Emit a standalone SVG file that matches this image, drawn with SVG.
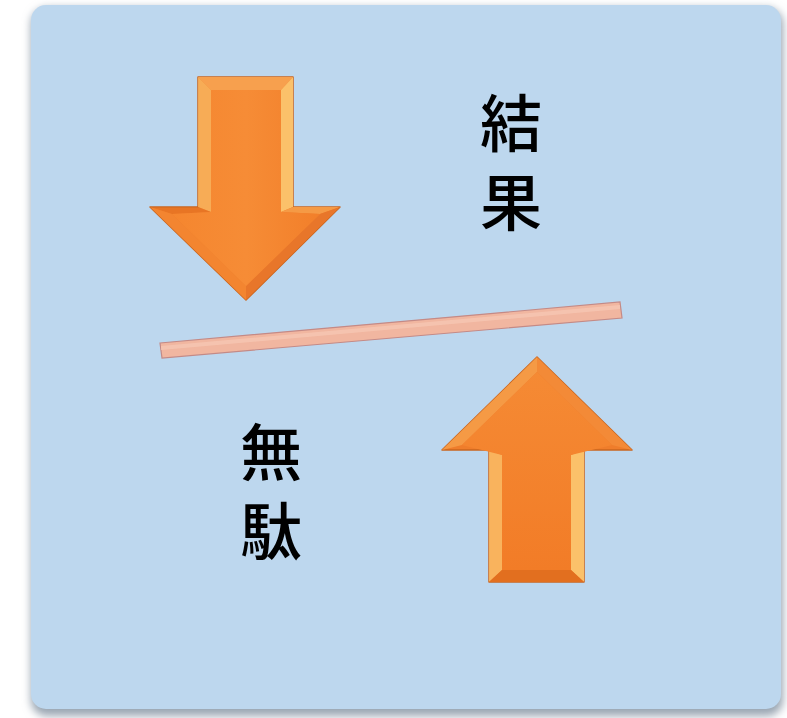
<svg xmlns="http://www.w3.org/2000/svg" width="787" height="718" viewBox="0 0 787 718">
<style>
.t{font-family:"Noto Sans CJK JP","Noto Sans CJK SC",sans-serif;font-size:62px;font-weight:500;fill:#000;writing-mode:vertical-rl;letter-spacing:17px}
.edge{fill:#ef7d2b;stroke:#c9651f;stroke-width:1.5;stroke-linejoin:round}
.lite{fill:#fbc16a}
.mid{fill:#f7a04e}
.dark{fill:#e26f1f}
</style>
<defs>
<filter id="sh" x="-5%" y="-5%" width="110%" height="110%"><feGaussianBlur stdDeviation="4"/></filter>
<linearGradient id="gd" x1="0" y1="0" x2="1" y2="0">
<stop offset="0" stop-color="#f5862f"/><stop offset="0.5" stop-color="#f68c36"/><stop offset="1" stop-color="#f27f2a"/>
</linearGradient>
<linearGradient id="gu" x1="0" y1="0" x2="0" y2="1">
<stop offset="0" stop-color="#f58a34"/><stop offset="1" stop-color="#f27c27"/>
</linearGradient>
</defs>
<rect x="0" y="0" width="787" height="718" fill="#ffffff"/>
<rect x="31" y="8" width="752" height="708" rx="16" fill="#9aa6b2" filter="url(#sh)"/>
<rect x="31" y="5" width="750" height="704" rx="15" fill="#bdd7ee"/>

<g id="arrow-down">
<polygon class="edge" points="198,77 293,77 293,207 340,207 246,300 150,207 198,207"/>
<polygon class="mid" points="198,77 293,77 281,90 211,90"/>
<polygon class="lite" points="198,77 211,90 211,212 198,207" opacity="0.7"/>
<polygon class="lite" points="293,77 281,90 281,212 293,207"/>
<polygon class="dark" points="150,207 198,207 211,212 172,214" opacity="0.6"/>
<polygon fill="#f59a45" points="340,207 293,207 281,212 320,214"/>
<polygon fill="#f38530" points="172,214 246,286 246,300 150,207"/>
<polygon fill="#e8762a" points="320,214 246,286 246,300 340,207"/>
<polygon fill="url(#gd)" points="211,90 281,90 281,212 320,214 246,286 172,214 211,212"/>
</g>

<g id="arrow-up">
<polygon class="edge" points="537,357 632,450 584,450 584,582 489,582 489,450 442,450"/>
<polygon fill="#f59a45" points="537,357 537,372 462,445 442,450"/>
<polygon fill="#f38a37" points="537,357 537,372 612,445 632,450"/>
<polygon class="lite" points="489,450 502,455 502,570 489,582" opacity="0.8"/>
<polygon class="lite" points="584,450 571,455 571,570 584,582"/>
<polygon class="dark" points="489,582 502,570 571,570 584,582"/>
<polygon fill="url(#gu)" points="537,372 612,445 571,455 571,570 502,570 502,455 462,445"/>
</g>

<g id="bar">
<polygon points="160,343 620,302 622,318 162,358" fill="#f1b6a0" stroke="#c48a86" stroke-width="1.2"/>
<polygon points="161,346 620,305 620,309 161,350" fill="#f6c7b3" opacity="0.8"/>
</g>

<g id="label-result">
<text class="t" x="511" y="92">結果</text>
</g>
<g id="label-waste">
<text class="t" x="271" y="421">無駄</text>
</g>
</svg>
